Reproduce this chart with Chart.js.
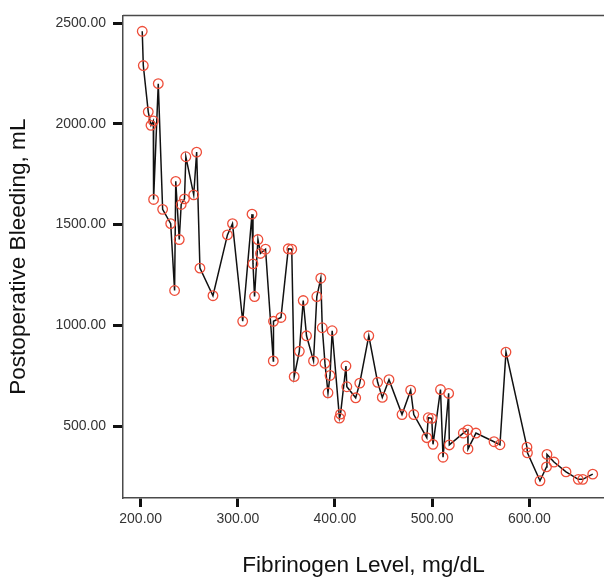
<!DOCTYPE html>
<html>
<head>
<meta charset="utf-8">
<script src="https://cdn.jsdelivr.net/npm/chart.js@4.4.0/dist/chart.umd.min.js"></script>
<style>
  html, body { margin: 0; padding: 0; background: #fff; }
  #c { display: block; }
</style>
</head>
<body>
<canvas id="c" width="604" height="577"></canvas>
<script>
// fibrinogen level (mg/dL)
const fibrinogen = [
  201.6, 202.7, 207.8, 210.6, 213.0, 213.3, 218.1, 222.6, 230.9, 234.9,
  236.1, 239.7, 241.7, 245.1, 246.5, 254.6, 257.6, 261.0, 274.4, 289.3,
  294.5, 305.0, 314.6, 315.6, 317.2, 320.7, 323.3, 328.5, 336.5, 336.7,
  344.4, 351.9, 355.5, 358.0, 363.3, 367.3, 370.7, 377.9, 381.3, 385.4,
  386.9, 389.7, 392.8, 394.9, 397.1, 404.6, 405.7, 411.3, 412.2, 421.3,
  425.5, 434.8, 443.9, 448.7, 455.6, 469.0, 477.9, 481.1, 494.5, 496.0,
  499.6, 500.9, 508.6, 511.2, 517.0, 517.7, 532.1, 536.7, 536.9, 545.1,
  563.7, 569.8, 576.0, 597.6, 598.1, 611.0, 617.7, 618.2, 625.4, 637.8,
  650.4, 655.0, 665.3
];
// postoperative bleeding (mL)
const bleeding = [
  2460, 2290, 2060, 1993, 2015, 1625, 2200, 1576, 1505, 1173,
  1715, 1426, 1600, 1628, 1837, 1648, 1860, 1284, 1147, 1449,
  1505, 1020, 1552, 1305, 1143, 1426, 1357, 1378, 823, 1020,
  1039, 1380, 1378, 745, 871, 1123, 948, 823, 1143, 1234,
  988, 811, 665, 751, 973, 539, 559, 798, 695, 640,
  713, 948, 717, 642, 730, 557, 678, 557, 442, 541,
  538, 409, 681, 345, 662, 406, 465, 481, 386, 465,
  422, 407, 867, 395, 367, 228, 297, 359, 321, 272,
  235, 235, 261
];
const xTicks = [200, 300, 400, 500, 600];
const yTicks = [500, 1000, 1500, 2000, 2500];

const points = fibrinogen.map((f, i) => ({ x: f, y: bleeding[i] }));

const fontFamily = "'Liberation Sans', Arial, sans-serif";

// top edge of the frame (left and bottom come from the axis borders)
const frameTop = {
  id: 'frameTop',
  afterDraw(chart) {
    const { ctx, chartArea } = chart;
    ctx.save();
    ctx.strokeStyle = '#4a4a4a';
    ctx.lineWidth = 1.5;
    ctx.beginPath();
    ctx.moveTo(chartArea.left, chartArea.top);
    ctx.lineTo(chartArea.right, chartArea.top);
    ctx.stroke();
    ctx.restore();
  }
};

new Chart(document.getElementById('c').getContext('2d'), {
  type: 'scatter',
  data: {
    datasets: [{
      data: points,
      showLine: true,
      borderColor: '#111',
      borderWidth: 1.5,
      pointRadius: 4.8,
      pointBorderWidth: 1.3,
      pointBorderColor: 'rgb(238,78,58)',
      pointBackgroundColor: 'rgba(0,0,0,0)'
    }]
  },
  options: {
    responsive: false,
    animation: false,
    devicePixelRatio: 1,
    layout: { autoPadding: false, padding: { top: 12, right: 0, bottom: 0, left: 0 } },
    plugins: { legend: { display: false }, tooltip: { enabled: false } },
    scales: {
      x: {
        type: 'linear',
        min: 181.8,
        max: 676.9,
        afterBuildTicks: s => { s.ticks = xTicks.map(v => ({ value: v })); },
        afterFit: s => { s.height = 79; },
        ticks: {
          callback: v => v.toFixed(2),
          font: { family: fontFamily, size: 14 },
          color: '#333',
          padding: 4,
          maxRotation: 0
        },
        grid: { drawOnChartArea: false, drawTicks: true, tickLength: 9, tickWidth: 3, tickColor: '#111' },
        border: { display: true, color: '#4a4a4a', width: 1.5 },
        title: {
          display: true,
          text: 'Fibrinogen Level, mg/dL',
          font: { family: fontFamily, size: 22.6, lineHeight: 1 },
          color: '#111',
          padding: { top: 0, bottom: 0 }
        }
      },
      y: {
        type: 'linear',
        min: 142.5,
        max: 2539,
        afterBuildTicks: s => { s.ticks = yTicks.map(v => ({ value: v })); },
        afterFit: s => { s.width = 123; },
        ticks: {
          callback: v => v.toFixed(2),
          font: { family: fontFamily, size: 14 },
          color: '#333',
          padding: 7
        },
        grid: { drawOnChartArea: false, drawTicks: true, tickLength: 10, tickWidth: 3, tickColor: '#111' },
        border: { display: true, color: '#4a4a4a', width: 1.5 },
        title: {
          display: true,
          text: 'Postoperative Bleeding, mL',
          font: { family: fontFamily, size: 22.6, lineHeight: 1 },
          color: '#111',
          padding: { top: 7, bottom: 0 }
        }
      }
    }
  },
  plugins: [frameTop]
});
</script>
</body>
</html>
